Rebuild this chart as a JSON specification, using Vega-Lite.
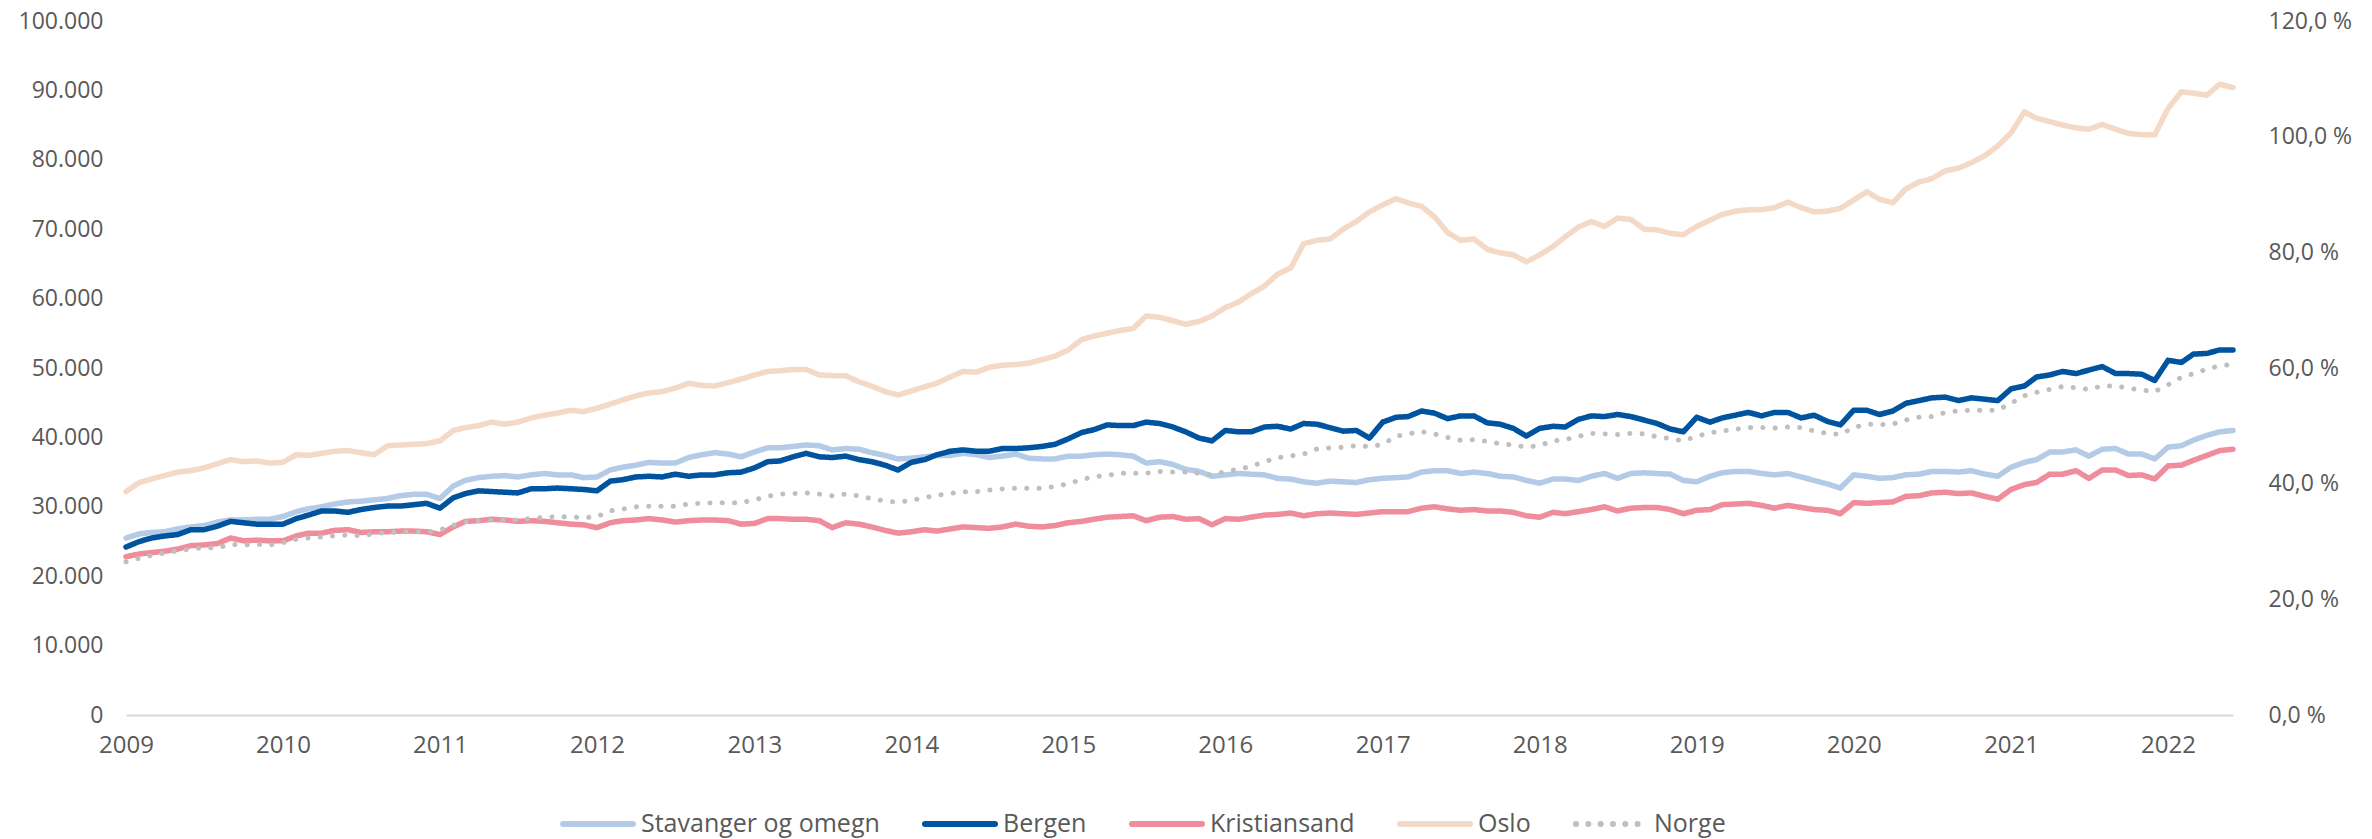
{
"$schema": "https://vega.github.io/schema/vega-lite/v6.json",
"width": 2107,
"height": 694,
"autosize": {"type": "none"},
"padding": {"left": 126, "top": 21, "right": 139, "bottom": 124},
"background": "white",
"config": {"view": {"stroke": null}, "font": "Open Sans"},
"data": {"values": [
{"d":"2009-01","Stavanger og omegn":25500,"Bergen":24200,"Kristiansand":22800,"Oslo":32200,"Norge":26.5},
{"d":"2009-02","Stavanger og omegn":26100,"Bergen":25000,"Kristiansand":23200,"Oslo":33500,"Norge":27.1},
{"d":"2009-03","Stavanger og omegn":26300,"Bergen":25500,"Kristiansand":23400,"Oslo":34000,"Norge":27.6},
{"d":"2009-04","Stavanger og omegn":26400,"Bergen":25800,"Kristiansand":23600,"Oslo":34500,"Norge":28.0},
{"d":"2009-05","Stavanger og omegn":26800,"Bergen":26000,"Kristiansand":23900,"Oslo":35000,"Norge":28.4},
{"d":"2009-06","Stavanger og omegn":27100,"Bergen":26700,"Kristiansand":24400,"Oslo":35200,"Norge":28.7},
{"d":"2009-07","Stavanger og omegn":27300,"Bergen":26700,"Kristiansand":24500,"Oslo":35600,"Norge":28.9},
{"d":"2009-08","Stavanger og omegn":27800,"Bergen":27200,"Kristiansand":24700,"Oslo":36200,"Norge":28.9},
{"d":"2009-09","Stavanger og omegn":28100,"Bergen":27900,"Kristiansand":25500,"Oslo":36800,"Norge":29.5},
{"d":"2009-10","Stavanger og omegn":28100,"Bergen":27700,"Kristiansand":25100,"Oslo":36500,"Norge":29.4},
{"d":"2009-11","Stavanger og omegn":28200,"Bergen":27500,"Kristiansand":25200,"Oslo":36600,"Norge":29.5},
{"d":"2009-12","Stavanger og omegn":28200,"Bergen":27500,"Kristiansand":25100,"Oslo":36300,"Norge":29.4},
{"d":"2010-01","Stavanger og omegn":28600,"Bergen":27500,"Kristiansand":25100,"Oslo":36400,"Norge":29.8},
{"d":"2010-02","Stavanger og omegn":29300,"Bergen":28300,"Kristiansand":25800,"Oslo":37500,"Norge":30.4},
{"d":"2010-03","Stavanger og omegn":29700,"Bergen":28800,"Kristiansand":26200,"Oslo":37400,"Norge":30.6},
{"d":"2010-04","Stavanger og omegn":30000,"Bergen":29400,"Kristiansand":26200,"Oslo":37700,"Norge":30.8},
{"d":"2010-05","Stavanger og omegn":30400,"Bergen":29400,"Kristiansand":26600,"Oslo":38000,"Norge":31.0},
{"d":"2010-06","Stavanger og omegn":30700,"Bergen":29200,"Kristiansand":26700,"Oslo":38100,"Norge":31.1},
{"d":"2010-07","Stavanger og omegn":30800,"Bergen":29600,"Kristiansand":26300,"Oslo":37800,"Norge":31.0},
{"d":"2010-08","Stavanger og omegn":31000,"Bergen":29900,"Kristiansand":26400,"Oslo":37500,"Norge":31.3},
{"d":"2010-09","Stavanger og omegn":31200,"Bergen":30100,"Kristiansand":26400,"Oslo":38800,"Norge":31.6},
{"d":"2010-10","Stavanger og omegn":31600,"Bergen":30100,"Kristiansand":26500,"Oslo":38900,"Norge":31.6},
{"d":"2010-11","Stavanger og omegn":31800,"Bergen":30300,"Kristiansand":26500,"Oslo":39000,"Norge":31.7},
{"d":"2010-12","Stavanger og omegn":31800,"Bergen":30500,"Kristiansand":26400,"Oslo":39100,"Norge":31.6},
{"d":"2011-01","Stavanger og omegn":31200,"Bergen":29800,"Kristiansand":26000,"Oslo":39500,"Norge":32.0},
{"d":"2011-02","Stavanger og omegn":33000,"Bergen":31300,"Kristiansand":27100,"Oslo":41000,"Norge":32.8},
{"d":"2011-03","Stavanger og omegn":33800,"Bergen":31900,"Kristiansand":27900,"Oslo":41400,"Norge":33.4},
{"d":"2011-04","Stavanger og omegn":34200,"Bergen":32300,"Kristiansand":28000,"Oslo":41700,"Norge":33.6},
{"d":"2011-05","Stavanger og omegn":34400,"Bergen":32200,"Kristiansand":28200,"Oslo":42200,"Norge":33.7},
{"d":"2011-06","Stavanger og omegn":34500,"Bergen":32100,"Kristiansand":28100,"Oslo":41900,"Norge":33.7},
{"d":"2011-07","Stavanger og omegn":34300,"Bergen":32000,"Kristiansand":27900,"Oslo":42200,"Norge":33.7},
{"d":"2011-08","Stavanger og omegn":34600,"Bergen":32600,"Kristiansand":28000,"Oslo":42800,"Norge":34.0},
{"d":"2011-09","Stavanger og omegn":34800,"Bergen":32600,"Kristiansand":27900,"Oslo":43200,"Norge":34.2},
{"d":"2011-10","Stavanger og omegn":34600,"Bergen":32700,"Kristiansand":27700,"Oslo":43500,"Norge":34.3},
{"d":"2011-11","Stavanger og omegn":34600,"Bergen":32600,"Kristiansand":27500,"Oslo":43900,"Norge":34.3},
{"d":"2011-12","Stavanger og omegn":34200,"Bergen":32500,"Kristiansand":27400,"Oslo":43700,"Norge":34.1},
{"d":"2012-01","Stavanger og omegn":34300,"Bergen":32300,"Kristiansand":27000,"Oslo":44200,"Norge":34.3},
{"d":"2012-02","Stavanger og omegn":35300,"Bergen":33700,"Kristiansand":27700,"Oslo":44800,"Norge":35.3},
{"d":"2012-03","Stavanger og omegn":35700,"Bergen":33900,"Kristiansand":28000,"Oslo":45400,"Norge":35.6},
{"d":"2012-04","Stavanger og omegn":36000,"Bergen":34300,"Kristiansand":28100,"Oslo":46000,"Norge":36.0},
{"d":"2012-05","Stavanger og omegn":36400,"Bergen":34400,"Kristiansand":28300,"Oslo":46400,"Norge":36.1},
{"d":"2012-06","Stavanger og omegn":36300,"Bergen":34300,"Kristiansand":28100,"Oslo":46600,"Norge":36.1},
{"d":"2012-07","Stavanger og omegn":36300,"Bergen":34700,"Kristiansand":27800,"Oslo":47100,"Norge":36.1},
{"d":"2012-08","Stavanger og omegn":37100,"Bergen":34400,"Kristiansand":28000,"Oslo":47800,"Norge":36.5},
{"d":"2012-09","Stavanger og omegn":37500,"Bergen":34600,"Kristiansand":28100,"Oslo":47500,"Norge":36.6},
{"d":"2012-10","Stavanger og omegn":37800,"Bergen":34600,"Kristiansand":28100,"Oslo":47400,"Norge":36.7},
{"d":"2012-11","Stavanger og omegn":37600,"Bergen":34900,"Kristiansand":28000,"Oslo":47900,"Norge":36.7},
{"d":"2012-12","Stavanger og omegn":37200,"Bergen":35000,"Kristiansand":27500,"Oslo":48400,"Norge":36.7},
{"d":"2013-01","Stavanger og omegn":37900,"Bergen":35600,"Kristiansand":27600,"Oslo":49000,"Norge":37.2},
{"d":"2013-02","Stavanger og omegn":38500,"Bergen":36500,"Kristiansand":28300,"Oslo":49500,"Norge":37.8},
{"d":"2013-03","Stavanger og omegn":38500,"Bergen":36600,"Kristiansand":28300,"Oslo":49600,"Norge":38.2},
{"d":"2013-04","Stavanger og omegn":38700,"Bergen":37200,"Kristiansand":28200,"Oslo":49800,"Norge":38.3},
{"d":"2013-05","Stavanger og omegn":38900,"Bergen":37700,"Kristiansand":28200,"Oslo":49800,"Norge":38.4},
{"d":"2013-06","Stavanger og omegn":38800,"Bergen":37200,"Kristiansand":28000,"Oslo":49000,"Norge":38.2},
{"d":"2013-07","Stavanger og omegn":38200,"Bergen":37100,"Kristiansand":27000,"Oslo":48900,"Norge":37.9},
{"d":"2013-08","Stavanger og omegn":38400,"Bergen":37300,"Kristiansand":27700,"Oslo":48900,"Norge":38.2},
{"d":"2013-09","Stavanger og omegn":38300,"Bergen":36800,"Kristiansand":27500,"Oslo":48000,"Norge":37.9},
{"d":"2013-10","Stavanger og omegn":37800,"Bergen":36500,"Kristiansand":27100,"Oslo":47400,"Norge":37.4},
{"d":"2013-11","Stavanger og omegn":37400,"Bergen":36000,"Kristiansand":26600,"Oslo":46600,"Norge":37.0},
{"d":"2013-12","Stavanger og omegn":36900,"Bergen":35300,"Kristiansand":26200,"Oslo":46100,"Norge":36.8},
{"d":"2014-01","Stavanger og omegn":37000,"Bergen":36400,"Kristiansand":26400,"Oslo":46700,"Norge":37.1},
{"d":"2014-02","Stavanger og omegn":37200,"Bergen":36800,"Kristiansand":26700,"Oslo":47300,"Norge":37.6},
{"d":"2014-03","Stavanger og omegn":37400,"Bergen":37500,"Kristiansand":26500,"Oslo":47800,"Norge":38.0},
{"d":"2014-04","Stavanger og omegn":37400,"Bergen":38000,"Kristiansand":26800,"Oslo":48700,"Norge":38.3},
{"d":"2014-05","Stavanger og omegn":37700,"Bergen":38200,"Kristiansand":27100,"Oslo":49500,"Norge":38.6},
{"d":"2014-06","Stavanger og omegn":37500,"Bergen":38000,"Kristiansand":27000,"Oslo":49400,"Norge":38.6},
{"d":"2014-07","Stavanger og omegn":37100,"Bergen":38000,"Kristiansand":26900,"Oslo":50100,"Norge":38.9},
{"d":"2014-08","Stavanger og omegn":37300,"Bergen":38400,"Kristiansand":27100,"Oslo":50400,"Norge":39.1},
{"d":"2014-09","Stavanger og omegn":37600,"Bergen":38400,"Kristiansand":27500,"Oslo":50500,"Norge":39.2},
{"d":"2014-10","Stavanger og omegn":37000,"Bergen":38500,"Kristiansand":27200,"Oslo":50700,"Norge":39.2},
{"d":"2014-11","Stavanger og omegn":36900,"Bergen":38700,"Kristiansand":27100,"Oslo":51200,"Norge":39.2},
{"d":"2014-12","Stavanger og omegn":36900,"Bergen":39000,"Kristiansand":27300,"Oslo":51700,"Norge":39.5},
{"d":"2015-01","Stavanger og omegn":37300,"Bergen":39800,"Kristiansand":27700,"Oslo":52600,"Norge":40.0},
{"d":"2015-02","Stavanger og omegn":37300,"Bergen":40700,"Kristiansand":27900,"Oslo":54100,"Norge":40.7},
{"d":"2015-03","Stavanger og omegn":37500,"Bergen":41100,"Kristiansand":28200,"Oslo":54600,"Norge":41.2},
{"d":"2015-04","Stavanger og omegn":37600,"Bergen":41800,"Kristiansand":28500,"Oslo":55000,"Norge":41.4},
{"d":"2015-05","Stavanger og omegn":37500,"Bergen":41700,"Kristiansand":28600,"Oslo":55400,"Norge":41.8},
{"d":"2015-06","Stavanger og omegn":37300,"Bergen":41700,"Kristiansand":28700,"Oslo":55700,"Norge":41.8},
{"d":"2015-07","Stavanger og omegn":36300,"Bergen":42200,"Kristiansand":28000,"Oslo":57500,"Norge":41.8},
{"d":"2015-08","Stavanger og omegn":36500,"Bergen":42000,"Kristiansand":28500,"Oslo":57300,"Norge":42.1},
{"d":"2015-09","Stavanger og omegn":36100,"Bergen":41500,"Kristiansand":28600,"Oslo":56800,"Norge":42.0},
{"d":"2015-10","Stavanger og omegn":35400,"Bergen":40800,"Kristiansand":28200,"Oslo":56300,"Norge":42.0},
{"d":"2015-11","Stavanger og omegn":35100,"Bergen":39900,"Kristiansand":28300,"Oslo":56700,"Norge":41.8},
{"d":"2015-12","Stavanger og omegn":34400,"Bergen":39500,"Kristiansand":27400,"Oslo":57500,"Norge":41.5},
{"d":"2016-01","Stavanger og omegn":34600,"Bergen":41000,"Kristiansand":28300,"Oslo":58700,"Norge":42.1},
{"d":"2016-02","Stavanger og omegn":34800,"Bergen":40800,"Kristiansand":28200,"Oslo":59500,"Norge":42.5},
{"d":"2016-03","Stavanger og omegn":34700,"Bergen":40800,"Kristiansand":28500,"Oslo":60700,"Norge":43.0},
{"d":"2016-04","Stavanger og omegn":34600,"Bergen":41500,"Kristiansand":28800,"Oslo":61800,"Norge":43.8},
{"d":"2016-05","Stavanger og omegn":34100,"Bergen":41600,"Kristiansand":28900,"Oslo":63500,"Norge":44.5},
{"d":"2016-06","Stavanger og omegn":34000,"Bergen":41200,"Kristiansand":29100,"Oslo":64400,"Norge":44.8},
{"d":"2016-07","Stavanger og omegn":33600,"Bergen":42000,"Kristiansand":28700,"Oslo":67900,"Norge":45.1},
{"d":"2016-08","Stavanger og omegn":33400,"Bergen":41900,"Kristiansand":29000,"Oslo":68400,"Norge":46.0},
{"d":"2016-09","Stavanger og omegn":33700,"Bergen":41400,"Kristiansand":29100,"Oslo":68600,"Norge":46.2},
{"d":"2016-10","Stavanger og omegn":33600,"Bergen":40900,"Kristiansand":29000,"Oslo":70000,"Norge":46.3},
{"d":"2016-11","Stavanger og omegn":33500,"Bergen":41000,"Kristiansand":28900,"Oslo":71100,"Norge":46.6},
{"d":"2016-12","Stavanger og omegn":33900,"Bergen":39900,"Kristiansand":29100,"Oslo":72500,"Norge":46.4},
{"d":"2017-01","Stavanger og omegn":34100,"Bergen":42200,"Kristiansand":29300,"Oslo":73500,"Norge":46.8},
{"d":"2017-02","Stavanger og omegn":34200,"Bergen":42900,"Kristiansand":29300,"Oslo":74400,"Norge":48.2},
{"d":"2017-03","Stavanger og omegn":34300,"Bergen":43000,"Kristiansand":29300,"Oslo":73800,"Norge":48.6},
{"d":"2017-04","Stavanger og omegn":35000,"Bergen":43800,"Kristiansand":29800,"Oslo":73300,"Norge":49.0},
{"d":"2017-05","Stavanger og omegn":35200,"Bergen":43500,"Kristiansand":30000,"Oslo":71800,"Norge":48.6},
{"d":"2017-06","Stavanger og omegn":35200,"Bergen":42700,"Kristiansand":29700,"Oslo":69500,"Norge":48.0},
{"d":"2017-07","Stavanger og omegn":34800,"Bergen":43100,"Kristiansand":29500,"Oslo":68400,"Norge":47.5},
{"d":"2017-08","Stavanger og omegn":35000,"Bergen":43100,"Kristiansand":29600,"Oslo":68600,"Norge":47.6},
{"d":"2017-09","Stavanger og omegn":34800,"Bergen":42100,"Kristiansand":29400,"Oslo":67100,"Norge":47.3},
{"d":"2017-10","Stavanger og omegn":34400,"Bergen":41900,"Kristiansand":29400,"Oslo":66600,"Norge":46.9},
{"d":"2017-11","Stavanger og omegn":34300,"Bergen":41300,"Kristiansand":29200,"Oslo":66300,"Norge":46.7},
{"d":"2017-12","Stavanger og omegn":33800,"Bergen":40200,"Kristiansand":28700,"Oslo":65300,"Norge":46.3},
{"d":"2018-01","Stavanger og omegn":33400,"Bergen":41300,"Kristiansand":28500,"Oslo":66300,"Norge":46.6},
{"d":"2018-02","Stavanger og omegn":34000,"Bergen":41600,"Kristiansand":29200,"Oslo":67500,"Norge":47.4},
{"d":"2018-03","Stavanger og omegn":34000,"Bergen":41500,"Kristiansand":29000,"Oslo":68900,"Norge":47.6},
{"d":"2018-04","Stavanger og omegn":33800,"Bergen":42600,"Kristiansand":29300,"Oslo":70300,"Norge":48.2},
{"d":"2018-05","Stavanger og omegn":34400,"Bergen":43100,"Kristiansand":29600,"Oslo":71100,"Norge":48.7},
{"d":"2018-06","Stavanger og omegn":34800,"Bergen":43000,"Kristiansand":30000,"Oslo":70400,"Norge":48.6},
{"d":"2018-07","Stavanger og omegn":34100,"Bergen":43300,"Kristiansand":29400,"Oslo":71600,"Norge":48.5},
{"d":"2018-08","Stavanger og omegn":34800,"Bergen":43000,"Kristiansand":29800,"Oslo":71400,"Norge":48.7},
{"d":"2018-09","Stavanger og omegn":34900,"Bergen":42500,"Kristiansand":29900,"Oslo":70000,"Norge":48.6},
{"d":"2018-10","Stavanger og omegn":34800,"Bergen":42000,"Kristiansand":29900,"Oslo":69900,"Norge":48.1},
{"d":"2018-11","Stavanger og omegn":34700,"Bergen":41200,"Kristiansand":29600,"Oslo":69400,"Norge":47.8},
{"d":"2018-12","Stavanger og omegn":33800,"Bergen":40800,"Kristiansand":29000,"Oslo":69200,"Norge":47.4},
{"d":"2019-01","Stavanger og omegn":33600,"Bergen":42900,"Kristiansand":29500,"Oslo":70400,"Norge":48.2},
{"d":"2019-02","Stavanger og omegn":34400,"Bergen":42200,"Kristiansand":29600,"Oslo":71300,"Norge":48.8},
{"d":"2019-03","Stavanger og omegn":34900,"Bergen":42800,"Kristiansand":30300,"Oslo":72100,"Norge":49.1},
{"d":"2019-04","Stavanger og omegn":35100,"Bergen":43200,"Kristiansand":30400,"Oslo":72600,"Norge":49.4},
{"d":"2019-05","Stavanger og omegn":35100,"Bergen":43600,"Kristiansand":30500,"Oslo":72800,"Norge":49.7},
{"d":"2019-06","Stavanger og omegn":34800,"Bergen":43100,"Kristiansand":30200,"Oslo":72800,"Norge":49.7},
{"d":"2019-07","Stavanger og omegn":34600,"Bergen":43600,"Kristiansand":29800,"Oslo":73100,"Norge":49.6},
{"d":"2019-08","Stavanger og omegn":34800,"Bergen":43600,"Kristiansand":30200,"Oslo":73900,"Norge":49.8},
{"d":"2019-09","Stavanger og omegn":34300,"Bergen":42800,"Kristiansand":29900,"Oslo":73100,"Norge":49.7},
{"d":"2019-10","Stavanger og omegn":33800,"Bergen":43200,"Kristiansand":29600,"Oslo":72500,"Norge":49.1},
{"d":"2019-11","Stavanger og omegn":33300,"Bergen":42300,"Kristiansand":29500,"Oslo":72600,"Norge":48.7},
{"d":"2019-12","Stavanger og omegn":32700,"Bergen":41800,"Kristiansand":29000,"Oslo":73000,"Norge":48.5},
{"d":"2020-01","Stavanger og omegn":34600,"Bergen":43900,"Kristiansand":30600,"Oslo":74200,"Norge":49.7},
{"d":"2020-02","Stavanger og omegn":34400,"Bergen":43900,"Kristiansand":30500,"Oslo":75400,"Norge":50.3},
{"d":"2020-03","Stavanger og omegn":34100,"Bergen":43300,"Kristiansand":30600,"Oslo":74300,"Norge":50.2},
{"d":"2020-04","Stavanger og omegn":34200,"Bergen":43800,"Kristiansand":30700,"Oslo":73800,"Norge":50.3},
{"d":"2020-05","Stavanger og omegn":34600,"Bergen":44900,"Kristiansand":31500,"Oslo":75800,"Norge":51.0},
{"d":"2020-06","Stavanger og omegn":34700,"Bergen":45300,"Kristiansand":31600,"Oslo":76800,"Norge":51.5},
{"d":"2020-07","Stavanger og omegn":35100,"Bergen":45700,"Kristiansand":32000,"Oslo":77300,"Norge":51.6},
{"d":"2020-08","Stavanger og omegn":35100,"Bergen":45800,"Kristiansand":32100,"Oslo":78400,"Norge":52.3},
{"d":"2020-09","Stavanger og omegn":35000,"Bergen":45300,"Kristiansand":31900,"Oslo":78800,"Norge":52.6},
{"d":"2020-10","Stavanger og omegn":35200,"Bergen":45700,"Kristiansand":32000,"Oslo":79600,"Norge":52.7},
{"d":"2020-11","Stavanger og omegn":34700,"Bergen":45500,"Kristiansand":31500,"Oslo":80600,"Norge":52.7},
{"d":"2020-12","Stavanger og omegn":34400,"Bergen":45300,"Kristiansand":31100,"Oslo":82000,"Norge":52.7},
{"d":"2021-01","Stavanger og omegn":35700,"Bergen":47000,"Kristiansand":32500,"Oslo":83900,"Norge":53.9},
{"d":"2021-02","Stavanger og omegn":36400,"Bergen":47400,"Kristiansand":33200,"Oslo":86900,"Norge":55.2},
{"d":"2021-03","Stavanger og omegn":36800,"Bergen":48700,"Kristiansand":33500,"Oslo":86000,"Norge":55.8},
{"d":"2021-04","Stavanger og omegn":37900,"Bergen":49000,"Kristiansand":34700,"Oslo":85500,"Norge":56.3},
{"d":"2021-05","Stavanger og omegn":37900,"Bergen":49500,"Kristiansand":34700,"Oslo":85000,"Norge":56.8},
{"d":"2021-06","Stavanger og omegn":38200,"Bergen":49200,"Kristiansand":35200,"Oslo":84600,"Norge":56.6},
{"d":"2021-07","Stavanger og omegn":37300,"Bergen":49700,"Kristiansand":34100,"Oslo":84400,"Norge":56.3},
{"d":"2021-08","Stavanger og omegn":38300,"Bergen":50200,"Kristiansand":35300,"Oslo":85100,"Norge":56.9},
{"d":"2021-09","Stavanger og omegn":38400,"Bergen":49200,"Kristiansand":35300,"Oslo":84400,"Norge":56.9},
{"d":"2021-10","Stavanger og omegn":37600,"Bergen":49200,"Kristiansand":34500,"Oslo":83800,"Norge":56.5},
{"d":"2021-11","Stavanger og omegn":37600,"Bergen":49100,"Kristiansand":34600,"Oslo":83600,"Norge":56.2},
{"d":"2021-12","Stavanger og omegn":36900,"Bergen":48200,"Kristiansand":34000,"Oslo":83600,"Norge":55.9},
{"d":"2022-01","Stavanger og omegn":38600,"Bergen":51100,"Kristiansand":35900,"Oslo":87400,"Norge":57.1},
{"d":"2022-02","Stavanger og omegn":38800,"Bergen":50800,"Kristiansand":36000,"Oslo":89800,"Norge":58.4},
{"d":"2022-03","Stavanger og omegn":39600,"Bergen":52000,"Kristiansand":36700,"Oslo":89600,"Norge":59.0},
{"d":"2022-04","Stavanger og omegn":40300,"Bergen":52100,"Kristiansand":37400,"Oslo":89300,"Norge":59.8},
{"d":"2022-05","Stavanger og omegn":40800,"Bergen":52600,"Kristiansand":38100,"Oslo":90900,"Norge":60.4},
{"d":"2022-06","Stavanger og omegn":41000,"Bergen":52600,"Kristiansand":38300,"Oslo":90400,"Norge":60.6}
]},
"encoding": {
  "x": {"field": "d", "type": "temporal",
    "scale": {"type": "utc", "domain": [{"year": 2009, "month": 1, "date": 1, "utc": true}, {"year": 2022, "month": 6, "date": 1, "utc": true}]},
    "axis": {"title": null, "format": "%Y", "grid": false, "ticks": false,
      "values": [{"year":2009,"utc":true},{"year":2010,"utc":true},{"year":2011,"utc":true},{"year":2012,"utc":true},{"year":2013,"utc":true},{"year":2014,"utc":true},{"year":2015,"utc":true},{"year":2016,"utc":true},{"year":2017,"utc":true},{"year":2018,"utc":true},{"year":2019,"utc":true},{"year":2020,"utc":true},{"year":2021,"utc":true},{"year":2022,"utc":true}],
      "domainColor": "#d9d9d9", "domainWidth": 2, "labelFont": "Open Sans", "labelFontSize": 24, "labelColor": "#595959", "labelPadding": 18, "labelFlush": false, "labelOverlap": false}},
  "color": {"field": "serie", "type": "nominal",
    "scale": {"domain": ["Stavanger og omegn", "Bergen", "Kristiansand", "Oslo", "Norge"], "range": ["#b4cbe7", "#00539f", "#ef8d9c", "#f4d9c7", "#bfbfbf"]},
    "legend": {"title": null, "orient": "none", "legendX": 434, "legendY": 765, "direction": "horizontal", "symbolType": "stroke", "symbolSize": 4900, "symbolStrokeWidth": 6, "labelFont": "Open Sans", "labelFontSize": 25, "labelColor": "#595959", "labelOffset": 5, "columnPadding": 33, "labelLimit": 400, "encode": {"symbols": {"update": {"strokeCap": {"value": "round"}}}}}},
  "strokeDash": {"field": "serie", "type": "nominal",
    "scale": {"domain": ["Stavanger og omegn", "Bergen", "Kristiansand", "Oslo", "Norge"], "range": [[1, 0], [1, 0], [1, 0], [1, 0], [0.1, 12.2]]},
    "legend": {"title": null, "orient": "none", "legendX": 434, "legendY": 765, "direction": "horizontal", "symbolType": "stroke", "symbolSize": 4900, "symbolStrokeWidth": 6, "labelFont": "Open Sans", "labelFontSize": 25, "labelColor": "#595959", "labelOffset": 5, "columnPadding": 33, "labelLimit": 400, "encode": {"symbols": {"update": {"strokeCap": {"value": "round"}}}}}}
},
"layer": [
  {"transform": [{"fold": ["Stavanger og omegn", "Bergen", "Kristiansand", "Oslo"], "as": ["serie", "v"]}],
   "mark": {"type": "line", "strokeWidth": 5.5, "strokeCap": "round", "strokeJoin": "round"},
   "encoding": {
     "y": {"field": "v", "type": "quantitative", "scale": {"domain": [0, 100000], "nice": false},
       "axis": {"title": null, "orient": "left", "grid": false, "ticks": false, "domain": false,
         "values": [0, 10000, 20000, 30000, 40000, 50000, 60000, 70000, 80000, 90000, 100000],
         "labelExpr": "replace(format(datum.value, ',.0f'), ',', '.')",
         "labelFont": "Open Sans", "labelFontSize": 23, "labelColor": "#595959", "labelPadding": 23}}
   }},
  {"transform": [{"fold": ["Norge"], "as": ["serie", "v"]}],
   "mark": {"type": "line", "strokeWidth": 5, "strokeCap": "round", "strokeJoin": "round"},
   "encoding": {
     "y": {"field": "v", "type": "quantitative", "scale": {"domain": [0, 120], "nice": false},
       "axis": {"title": null, "orient": "right", "grid": false, "ticks": false, "domain": false,
         "values": [0, 20, 40, 60, 80, 100, 120],
         "labelExpr": "replace(format(datum.value, '.1f'), '.', ',') + ' %'",
         "labelFont": "Open Sans", "labelFontSize": 23, "labelColor": "#595959", "labelPadding": 35}}
   }}
],
"resolve": {"scale": {"y": "independent"}}
}
